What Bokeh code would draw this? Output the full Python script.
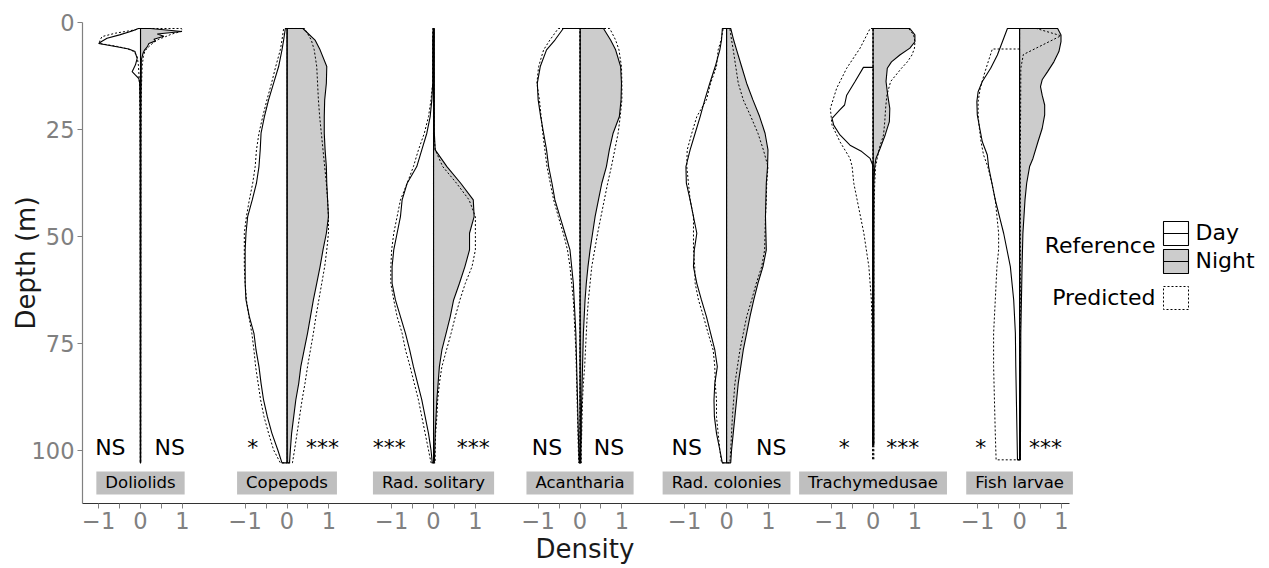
import math
from bokeh.plotting import figure
from bokeh.models import Range1d, FixedTicker, Title, ColumnDataSource
from bokeh.core.properties import value
from bokeh.embed import file_html
from bokeh.resources import INLINE

FONT = "DejaVu Sans"

# ---------------- data ----------------
taxa = ["Doliolids", "Copepods", "Rad. solitary", "Acantharia",
        "Rad. colonies", "Trachymedusae", "Fish larvae"]
sig_day = ["NS", "*", "***", "NS", "NS", "*", "*"]
sig_night = ["NS", "***", "***", "NS", "NS", "***", "***"]

depth_ticks = [0, 25, 50, 75, 100]
density_ticks = [-1, -0.5, 0, 0.5, 1]
density_labels = ["\u22121", "", "0", "", "1"]

# common depth grid (m) for the smooth profiles
grid = [1.4, 4.1, 6.4, 10.3, 14.2, 18.1, 22.0, 25.9, 29.8, 33.7, 37.6, 41.5, 45.4, 49.3,
        53.2, 57.1, 61.0, 64.9, 68.8, 72.7, 76.6, 80.5, 84.4, 88.3, 92.2, 96.1, 100.0, 103.0]

# Copepods
cop_night = [0.38, 0.67, 0.79, 0.95, 0.94, 0.90, 0.89, 0.89, 0.91, 0.94, 0.95, 0.97, 0.99, 0.94,
             0.86, 0.79, 0.71, 0.63, 0.56, 0.49, 0.41, 0.33, 0.28, 0.21, 0.16, 0.11, 0.08, 0.06]
cop_night_pred = [0.42, 0.58, 0.65, 0.71, 0.73, 0.75, 0.78, 0.82, 0.86, 0.90, 0.94, 0.97, 0.99, 0.99,
                  0.95, 0.90, 0.83, 0.76, 0.69, 0.63, 0.56, 0.49, 0.43, 0.36, 0.30, 0.24, 0.18, 0.13]
cop_day = [-0.04, -0.08, -0.12, -0.20, -0.32, -0.44, -0.54, -0.62, -0.64, -0.67, -0.73, -0.83, -0.94, -0.98,
           -1.00, -1.00, -1.00, -0.98, -0.90, -0.79, -0.74, -0.67, -0.62, -0.56, -0.47, -0.36, -0.22, -0.12]
cop_day_pred = [-0.08, -0.12, -0.16, -0.27, -0.37, -0.48, -0.58, -0.67, -0.73, -0.76, -0.82, -0.90, -0.97, -1.02,
                -1.02, -1.02, -1.00, -0.97, -0.91, -0.84, -0.79, -0.75, -0.69, -0.63, -0.55, -0.44, -0.32, -0.16]

# Rad. solitary
rs_night = [0.02, 0.02, 0.02, 0.02, 0.02, 0.02, 0.02, 0.02, 0.04, 0.32, 0.65, 0.95, 0.97, 0.86,
            0.86, 0.75, 0.62, 0.48, 0.40, 0.30, 0.20, 0.14, 0.11, 0.08, 0.06, 0.04, 0.03, 0.02]
rs_night_pred = [0.01, 0.01, 0.01, 0.01, 0.01, 0.01, 0.01, 0.01, 0.04, 0.22, 0.55, 0.85, 1.00, 1.00,
                 1.00, 0.92, 0.76, 0.63, 0.52, 0.42, 0.31, 0.20, 0.14, 0.10, 0.08, 0.05, 0.04, 0.04]
rs_day = [-0.01, -0.02, -0.02, -0.02, -0.02, -0.04, -0.08, -0.16, -0.28, -0.40, -0.63, -0.75, -0.79, -0.87,
          -0.95, -0.99, -0.99, -0.91, -0.79, -0.67, -0.57, -0.48, -0.38, -0.28, -0.20, -0.12, -0.06, -0.03]
rs_day_pred = [-0.02, -0.02, -0.02, -0.02, -0.02, -0.06, -0.12, -0.22, -0.36, -0.48, -0.63, -0.79, -0.87, -0.95,
               -1.00, -1.02, -1.02, -0.95, -0.87, -0.75, -0.67, -0.56, -0.46, -0.36, -0.28, -0.20, -0.12, -0.06]

# Acantharia
ac_night = [0.56, 0.73, 0.85, 0.97, 0.99, 0.98, 0.94, 0.79, 0.70, 0.63, 0.52, 0.44, 0.36, 0.30,
            0.24, 0.19, 0.15, 0.12, 0.10, 0.08, 0.07, 0.06, 0.05, 0.04, 0.03, 0.03, 0.02, 0.02]
ac_night_pred = [0.71, 0.85, 0.93, 0.99, 1.00, 1.00, 0.96, 0.91, 0.83, 0.75, 0.66, 0.58, 0.50, 0.42,
                 0.35, 0.28, 0.24, 0.20, 0.17, 0.15, 0.13, 0.11, 0.08, 0.06, 0.05, 0.04, 0.03, 0.03]
ac_day = [-0.40, -0.60, -0.80, -0.95, -1.02, -1.00, -0.94, -0.87, -0.80, -0.75, -0.67, -0.60, -0.48, -0.36,
          -0.24, -0.20, -0.16, -0.14, -0.12, -0.10, -0.09, -0.08, -0.07, -0.06, -0.05, -0.04, -0.03, -0.02]
ac_day_pred = [-0.52, -0.72, -0.87, -0.99, -1.03, -0.97, -0.93, -0.89, -0.84, -0.79, -0.71, -0.63, -0.52, -0.40,
               -0.30, -0.24, -0.20, -0.16, -0.14, -0.12, -0.10, -0.09, -0.08, -0.07, -0.06, -0.05, -0.04, -0.03]

# Rad. colonies
rc_night = [0.10, 0.17, 0.24, 0.36, 0.48, 0.63, 0.79, 0.92, 0.99, 0.98, 0.95, 0.94, 0.93, 0.94,
            0.95, 0.87, 0.75, 0.65, 0.56, 0.48, 0.40, 0.34, 0.28, 0.24, 0.20, 0.16, 0.12, 0.10]
rc_night_pred = [0.08, 0.12, 0.16, 0.22, 0.28, 0.40, 0.58, 0.75, 0.88, 0.99, 0.96, 0.95, 0.93, 0.92,
                 0.91, 0.84, 0.71, 0.60, 0.48, 0.40, 0.32, 0.26, 0.20, 0.17, 0.14, 0.12, 0.10, 0.08]
rc_day = [-0.10, -0.12, -0.16, -0.27, -0.40, -0.52, -0.63, -0.75, -0.87, -0.97, -0.96, -0.87, -0.79, -0.71,
          -0.77, -0.79, -0.71, -0.60, -0.48, -0.38, -0.28, -0.22, -0.28, -0.30, -0.29, -0.24, -0.16, -0.10]
rc_day_pred = [-0.08, -0.13, -0.20, -0.24, -0.38, -0.48, -0.71, -0.83, -0.94, -0.95, -0.91, -0.87, -0.79, -0.79,
               -0.79, -0.76, -0.75, -0.67, -0.55, -0.44, -0.32, -0.28, -0.27, -0.24, -0.24, -0.20, -0.16, -0.12]

# Doliolids
do_night_depth = [1.4, 2.1, 2.7, 3.2, 3.9, 4.3, 4.9, 5.7, 6.4, 7.2, 8.8, 20.0, 35.0, 103.0]
do_night = [0.24, 0.99, 0.40, 0.56, 0.32, 0.36, 0.20, 0.16, 0.10, 0.06, 0.02, 0.01, 0.01, 0.005]
do_night_pred_depth = [1.4, 2.0, 2.7, 3.3, 3.9, 4.6, 5.3, 6.0, 6.8, 8.0, 10.0, 16.0, 30.0, 103.0]
do_night_pred = [0.98, 1.00, 0.75, 0.60, 0.44, 0.32, 0.24, 0.16, 0.10, 0.07, 0.04, 0.02, 0.01, 0.005]
do_day_depth = [1.4, 2.0, 2.9, 3.7, 4.4, 4.9, 5.6, 6.2, 6.8, 7.2, 8.4, 9.9, 10.7, 11.5, 12.3, 13.1,
                14.2, 20.0, 35.0, 103.0]
do_day = [-0.05, -0.20, -0.50, -0.80, -0.92, -1.00, -0.60, -0.28, -0.13, -0.12, -0.08, -0.12, -0.16, -0.20,
          -0.12, -0.04, -0.02, -0.01, -0.008, -0.005]
do_day_pred_depth = [1.4, 1.7, 2.5, 3.3, 4.2, 4.9, 5.6, 6.2, 6.8, 8.0, 10.0, 15.0, 30.0, 103.0]
do_day_pred = [-0.04, -0.12, -0.60, -0.92, -0.97, -0.98, -0.55, -0.30, -0.15, -0.08, -0.05, -0.02, -0.01, -0.005]

# Trachymedusae
tr_night_depth = [1.4, 2.9, 4.5, 6.0, 7.6, 9.2, 10.7, 13.8, 17.0, 20.1, 23.2, 26.3, 29.4, 31.8, 33.7,
                  37.6, 41.5, 49.3, 57.1, 64.9, 72.7, 80.5, 88.3, 96.1, 98.8]
tr_night = [0.88, 1.00, 1.00, 0.88, 0.64, 0.44, 0.34, 0.31, 0.35, 0.40, 0.39, 0.29, 0.17, 0.07, 0.04,
            0.02, 0.02, 0.02, 0.02, 0.02, 0.02, 0.02, 0.02, 0.02, 0.02]
tr_night_pred_depth = [1.4, 2.9, 4.5, 6.0, 7.6, 9.2, 10.7, 13.8, 17.0, 20.1, 23.2, 26.3, 29.4, 31.8, 33.7,
                       37.6, 41.5, 49.3, 57.1, 64.9, 72.7, 80.5, 88.3, 96.1, 102.3]
tr_night_pred = [0.85, 0.97, 1.00, 0.99, 0.93, 0.82, 0.68, 0.42, 0.33, 0.30, 0.28, 0.25, 0.15, 0.10, 0.06,
                 0.04, 0.03, 0.02, 0.02, 0.02, 0.02, 0.02, 0.02, 0.02, 0.02]
tr_day_depth = [10.5, 13.8, 17.0, 19.3, 20.5, 22.4, 24.0, 26.3, 28.7, 30.2, 31.8, 33.3, 98.8]
tr_day = [-0.23, -0.43, -0.63, -0.68, -0.80, -0.98, -0.94, -0.79, -0.55, -0.27, -0.07, -0.01, -0.01]
tr_day_pred_depth = [1.4, 6.0, 10.7, 15.4, 20.1, 24.0, 27.9, 31.8, 33.7, 37.6, 41.5, 49.3, 57.1, 64.9,
                     72.7, 102.3]
tr_day_pred = [-0.07, -0.31, -0.63, -0.87, -1.02, -0.98, -0.79, -0.55, -0.50, -0.46, -0.38, -0.22, -0.10,
               -0.04, -0.02, -0.01]

# Fish larvae
fl_night_depth = [1.4, 2.9, 4.5, 6.8, 9.2, 11.5, 13.4, 15.0, 17.0, 19.3, 21.6, 24.8, 27.9, 31.8, 33.7,
                  37.6, 41.5, 49.3, 57.1, 72.7, 102.3]
fl_night = [0.91, 0.99, 0.99, 0.94, 0.82, 0.67, 0.54, 0.50, 0.54, 0.60, 0.60, 0.54, 0.44, 0.32, 0.24,
            0.17, 0.13, 0.08, 0.06, 0.03, 0.02]
fl_night_pred_depth = [1.4, 3.1, 7.5, 10.7, 30.0, 60.0, 102.3]
fl_night_pred = [0.40, 0.99, 0.09, 0.03, 0.02, 0.02, 0.02]
fl_day_depth = [1.4, 4.5, 7.6, 10.7, 13.8, 16.2, 18.5, 21.6, 24.8, 27.9, 31.0, 33.7, 37.6, 41.5, 45.4,
                49.3, 57.1, 64.9, 72.7, 80.5, 102.3]
fl_day = [-0.29, -0.41, -0.53, -0.69, -0.89, -0.99, -1.02, -1.01, -0.95, -0.89, -0.77, -0.74, -0.66, -0.58,
          -0.48, -0.38, -0.22, -0.14, -0.10, -0.09, -0.05]
fl_day_pred_depth = [6.2, 9.2, 12.3, 15.4, 18.5, 21.6, 24.8, 27.9, 31.0, 33.7, 37.6, 41.5, 49.3, 53.2,
                     57.1, 64.9, 72.7, 80.5, 88.3, 96.1, 102.3]
fl_day_pred = [-0.65, -0.75, -0.85, -0.94, -0.99, -0.99, -0.96, -0.92, -0.86, -0.76, -0.66, -0.58, -0.50,
               -0.50, -0.54, -0.58, -0.62, -0.62, -0.60, -0.58, -0.56]

# profiles per taxon: (depths, widths) for day, night, day predicted, night predicted
profiles = {
    "Doliolids": ((do_day_depth, do_day), (do_night_depth, do_night),
                  (do_day_pred_depth, do_day_pred), (do_night_pred_depth, do_night_pred)),
    "Copepods": ((grid, cop_day), (grid, cop_night), (grid, cop_day_pred), (grid, cop_night_pred)),
    "Rad. solitary": ((grid, rs_day), (grid, rs_night), (grid, rs_day_pred), (grid, rs_night_pred)),
    "Acantharia": ((grid, ac_day), (grid, ac_night), (grid, ac_day_pred), (grid, ac_night_pred)),
    "Rad. colonies": ((grid, rc_day), (grid, rc_night), (grid, rc_day_pred), (grid, rc_night_pred)),
    "Trachymedusae": ((tr_day_depth, tr_day), (tr_night_depth, tr_night),
                      (tr_day_pred_depth, tr_day_pred), (tr_night_pred_depth, tr_night_pred)),
    "Fish larvae": ((fl_day_depth, fl_day), (fl_night_depth, fl_night),
                    (fl_day_pred_depth, fl_day_pred), (fl_night_pred_depth, fl_night_pred)),
}

# ---------------- layout helpers ----------------
SPACING = 3.5                       # distance between panel centres (density units)
centers = [i * SPACING for i in range(len(taxa))]
sig_day_offset = [-0.72, -0.82, -1.06, -0.79, -0.95, -0.69, -0.93]
sig_night_offset = [0.70, 0.85, 0.95, 0.69, 1.07, 0.71, 0.62]
SIG_DEPTH = 99.3
STRIP_DEPTH = 107.7

W, H = 1269, 568
LEFT, TOP, BOTTOM = 82, 22, 65
PX_PER_UNIT = 41.86
PX_PER_M = 4.275
x_start = -(140 - LEFT) / PX_PER_UNIT
x_end = x_start + (W - LEFT) / PX_PER_UNIT
y_end_depth = (H - TOP - BOTTOM) / PX_PER_M
axis_right = centers[-1] + 1.2


def px_x(px):
    return x_start + (px - LEFT) / PX_PER_UNIT


def px_y(py):
    return (py - TOP) / PX_PER_M


def half_polygon(c, depths, widths):
    xs = [c] + [c + w for w in widths] + [c]
    ys = [depths[0]] + list(depths) + [depths[-1]]
    return xs, ys


p = figure(width=W, height=H, output_backend="svg", toolbar_location=None,
           x_range=Range1d(x_start, x_end), y_range=Range1d(start=y_end_depth, end=0),
           min_border_left=LEFT, min_border_right=0, min_border_top=TOP, min_border_bottom=BOTTOM)
p.grid.visible = False
p.outline_line_color = None
p.background_fill_color = "white"

groups = {"day": ([], []), "night": ([], []), "dpred": ([], []), "npred": ([], [])}
for c, name in zip(centers, taxa):
    day, night, dpred, npred = profiles[name]
    for key, prof in zip(["day", "night", "dpred", "npred"], [day, night, dpred, npred]):
        xs, ys = half_polygon(c, prof[0], prof[1])
        groups[key][0].append(xs)
        groups[key][1].append(ys)

p.patches(groups["night"][0], groups["night"][1], fill_color="#CCCCCC", line_color="black", line_width=1.1)
p.patches(groups["day"][0], groups["day"][1], fill_color="white", line_color="black", line_width=1.1)
p.patches(groups["dpred"][0], groups["dpred"][1], fill_alpha=0, line_color="black", line_width=1,
          line_dash="2 2")
p.patches(groups["npred"][0], groups["npred"][1], fill_alpha=0, line_color="black", line_width=1,
          line_dash="2 2")

# significance labels
sig_src = ColumnDataSource(dict(
    x=[c + o for c, o in zip(centers, sig_day_offset)] + [c + o for c, o in zip(centers, sig_night_offset)],
    y=[SIG_DEPTH] * (2 * len(taxa)),
    t=sig_day + sig_night))
p.text(x="x", y="y", text="t", source=sig_src, text_font=value(FONT), text_font_size="22px",
       text_align="center", text_baseline="middle", text_color="black")

# strip labels
strip_src = ColumnDataSource(dict(x=centers, y=[STRIP_DEPTH] * len(taxa), t=taxa))
p.text(x="x", y="y", text="t", source=strip_src, text_font=value(FONT), text_font_size="16.5px",
       text_align="center", text_baseline="middle", text_color="black",
       background_fill_color="#BFBFBF", padding=dict(left=9, right=9, top=2, bottom=2))

# axes
xticks, overrides = [], {}
for c in centers:
    for t, lab in zip(density_ticks, density_labels):
        xticks.append(c + t)
        overrides[c + t] = lab
p.xaxis.ticker = FixedTicker(ticks=xticks)
p.xaxis.major_label_overrides = overrides
p.xaxis.bounds = (x_start, axis_right)
p.yaxis.ticker = FixedTicker(ticks=depth_ticks)
for ax, lc in ((p.xaxis, "#333333"), (p.yaxis, "#808080")):
    ax.axis_line_color = lc
    ax.axis_line_width = 1.2
    ax.major_tick_line_color = "#808080"
    ax.major_tick_out = 5
    ax.major_tick_in = 0
    ax.minor_tick_line_color = None
    ax.major_label_text_font = FONT
    ax.major_label_text_font_size = "22.5px"
    ax.major_label_text_color = "#808080"
    ax.major_label_standoff = 3

# y axis title
p.yaxis.axis_label = "Depth (m)"
p.yaxis.axis_label_text_font = FONT
p.yaxis.axis_label_text_font_size = "26px"
p.yaxis.axis_label_text_font_style = "normal"
p.yaxis.axis_label_text_color = "#1A1A1A"
p.yaxis.axis_label_standoff = -12

# x axis title, placed under the panels (frame also hosts the legend on the right)
x_title = Title(text="Density", align="left", offset=453, standoff=0,
                text_font=FONT, text_font_size="26px", text_font_style="normal", text_color="#1A1A1A")
p.add_layout(x_title, "below")

# legend
kx0, kx1 = px_x(1163), px_x(1188)
p.quad(left=[kx0, kx0], right=[kx1, kx1], top=[px_y(221), px_y(249)], bottom=[px_y(245), px_y(273)],
       fill_color=["white", "#CCCCCC"], line_color="black", line_width=1.1)
p.segment(x0=[kx0, kx0], x1=[kx1, kx1], y0=[px_y(233), px_y(261)], y1=[px_y(233), px_y(261)],
          line_color="black", line_width=1.1)
p.quad(left=[kx0], right=[kx1], top=[px_y(286)], bottom=[px_y(309)], fill_color="white",
       line_color="black", line_width=1, line_dash="2 2")
leg_src = ColumnDataSource(dict(
    x=[px_x(1155), px_x(1155), px_x(1195), px_x(1195)],
    y=[px_y(245), px_y(297), px_y(232), px_y(260)],
    t=["Reference", "Predicted", "Day", "Night"],
    a=["right", "right", "left", "left"]))
p.text(x="x", y="y", text="t", text_align="a", source=leg_src, text_font=value(FONT),
       text_font_size="22px", text_baseline="middle", text_color="black")

open("out.html", "w").write(file_html(p, INLINE))
